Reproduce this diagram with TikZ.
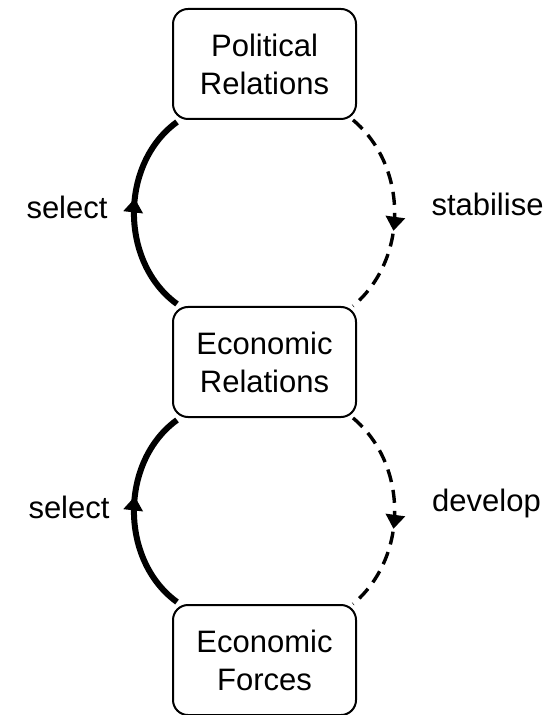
\documentclass[tikz,border=0pt]{standalone}
\usepackage{fontspec}
\setmainfont{Liberation Sans}
\usetikzlibrary{arrows.meta,decorations.markings,positioning}

\begin{document}
\begin{tikzpicture}
	[x=1pt,y=1pt,node distance=93pt,
	every node/.style={font=\fontsize{15.5}{19}\selectfont},
	relbox/.style={draw,line width=1pt,rounded corners=7.5pt,align=center,
		minimum width=91.5pt,minimum height=55pt,inner sep=2pt},
	lbl/.style={anchor=base,inner sep=0pt},
	selarc/.style={line width=3pt,postaction={decorate},
		decoration={markings,mark=at position 0.57 with {\arrow{Triangle[width=9.5pt 0 0,length=7pt 0 0]}}}},
	devarc/.style={line width=1.7pt,dash pattern=on 6.5pt off 4pt,postaction={decorate},
		decoration={markings,mark=at position 0.585 with {\arrow{Triangle[width=9.5pt 0 0,length=7pt 0 0]}}}}]
	\useasboundingbox (0,0) rectangle (277,-357.5);
	% the three boxes
	\node[relbox] (pol) at (132.25,-32) {Political\\Relations};
	\node[relbox,below=of pol] (erel) {Economic\\Relations};
	\node[relbox,below=of erel] (eforce) {Economic\\Forces};
	% upper loop
	\draw[selarc] ([xshift=2.5pt,yshift=1pt]erel.north west) to[bend left=54] ([xshift=2.5pt,yshift=-1pt]pol.south west);
	\draw[devarc] ([xshift=-2pt]pol.south east) to[bend left=50] ([xshift=-2pt]erel.north east);
	% lower loop
	\draw[selarc] ([xshift=2.5pt,yshift=1pt]eforce.north west) to[bend left=54] ([xshift=2.5pt,yshift=-1pt]erel.south west);
	\draw[devarc] ([xshift=-2pt]erel.south east) to[bend left=50] ([xshift=-2pt]eforce.north east);
	% labels
	\node[lbl] (sel1) at (33.5,-109.5) {select};
	\node[lbl] (stab) at (243.75,-107.75) {stabilise};
	\node[lbl] (sel2) at (34.5,-259) {select};
	\node[lbl] (dev) at (243.25,-255.5) {develop};
\end{tikzpicture}
\end{document}
